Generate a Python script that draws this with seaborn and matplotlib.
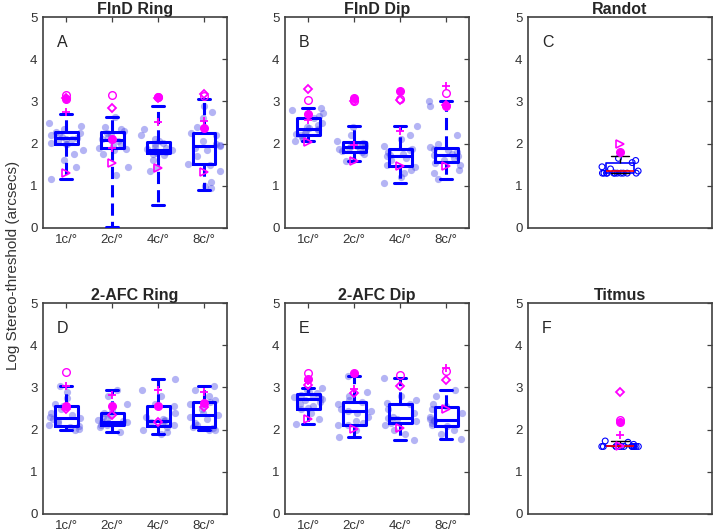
import numpy as np
import pandas as pd
import matplotlib
matplotlib.use("Agg")
import matplotlib.pyplot as plt
import seaborn as sns

sns.set_style("white")
plt.rcParams["font.family"] = ["Liberation Sans", "DejaVu Sans"]

freqs = ["1c/°", "2c/°", "4c/°", "8c/°"]

# ---------------- individual observers (blue dots) ----------------
find_ring_dots = [
    [1.17, 1.45, 1.62, 1.75, 1.85, 1.98, 2.0, 2.02, 2.05, 2.1, 2.12, 2.14, 2.16, 2.2, 2.22, 2.25, 2.28, 2.35, 2.42, 2.5],
    [1.25, 1.45, 1.75, 1.85, 1.88, 1.9, 1.95, 2.0, 2.05, 2.08, 2.1, 2.12, 2.15, 2.2, 2.25, 2.3, 2.35, 2.4, 2.63],
    [1.35, 1.45, 1.6, 1.72, 1.76, 1.78, 1.8, 1.83, 1.85, 1.87, 1.9, 1.93, 1.98, 2.02, 2.05, 2.1, 2.2, 2.35],
    [0.95, 1.0, 1.1, 1.35, 1.5, 1.52, 1.7, 1.85, 1.9, 1.95, 1.97, 2.0, 2.05, 2.2, 2.25, 2.4, 2.6, 2.75, 2.9],
]
find_dip_dots = [
    [2.07, 2.1, 2.15, 2.2, 2.22, 2.25, 2.3, 2.33, 2.35, 2.38, 2.4, 2.45, 2.5, 2.6, 2.65, 2.72, 2.8, 2.84],
    [1.58, 1.62, 1.75, 1.8, 1.82, 1.85, 1.88, 1.9, 1.93, 1.95, 1.95, 1.97, 2.0, 2.02, 2.05, 2.2, 2.4],
    [1.06, 1.2, 1.3, 1.38, 1.45, 1.5, 1.6, 1.65, 1.7, 1.72, 1.75, 1.8, 1.85, 1.88, 1.95, 2.1, 2.2, 2.42],
    [1.15, 1.3, 1.38, 1.5, 1.55, 1.6, 1.65, 1.7, 1.72, 1.75, 1.8, 1.85, 1.88, 1.92, 2.0, 2.2, 2.9, 3.02],
]
afc_ring_dots = [
    [1.99, 2.02, 2.05, 2.08, 2.1, 2.15, 2.2, 2.25, 2.28, 2.3, 2.35, 2.4, 2.5, 2.55, 2.6, 2.75, 2.9, 3.03],
    [1.94, 2.05, 2.1, 2.12, 2.15, 2.17, 2.18, 2.2, 2.22, 2.25, 2.3, 2.35, 2.4, 2.45, 2.6, 2.8, 2.94],
    [1.89, 1.95, 2.0, 2.05, 2.1, 2.15, 2.18, 2.2, 2.22, 2.25, 2.3, 2.4, 2.55, 2.6, 2.8, 2.95, 3.2],
    [1.99, 2.0, 2.03, 2.05, 2.1, 2.15, 2.25, 2.3, 2.35, 2.4, 2.5, 2.6, 2.65, 2.7, 2.8, 2.95, 3.03],
]
afc_dip_dots = [
    [2.14, 2.25, 2.4, 2.48, 2.52, 2.55, 2.6, 2.65, 2.7, 2.72, 2.75, 2.78, 2.8, 2.83, 2.86, 2.9, 2.95, 2.99],
    [1.83, 2.0, 2.1, 2.12, 2.15, 2.2, 2.3, 2.4, 2.43, 2.45, 2.5, 2.6, 2.65, 2.7, 2.8, 2.9, 3.27],
    [1.76, 1.9, 2.0, 2.1, 2.15, 2.2, 2.25, 2.28, 2.3, 2.4, 2.5, 2.6, 2.62, 2.7, 2.8, 3.23],
    [1.77, 1.9, 2.0, 2.08, 2.1, 2.15, 2.2, 2.22, 2.25, 2.3, 2.4, 2.5, 2.55, 2.6, 2.8, 2.94],
]
randot_dots = [1.3, 1.3, 1.3, 1.3, 1.3, 1.3, 1.3, 1.3, 1.3, 1.3, 1.3, 1.35, 1.4, 1.45, 1.55, 1.6, 1.65]
titmus_dots = [1.6, 1.6, 1.6, 1.6, 1.6, 1.6, 1.6, 1.6, 1.6, 1.6, 1.6, 1.6, 1.6, 1.65, 1.7, 1.73]

# ---------------- box summary statistics ----------------
find_ring_box = dict(q1=[2.0, 1.89, 1.77, 1.51], med=[2.13, 2.09, 1.86, 1.95], q3=[2.27, 2.27, 2.03, 2.25],
                     lo=[1.17, 0.02, 0.55, 0.91], hi=[2.71, 2.63, 2.88, 3.06])
find_dip_box = dict(q1=[2.2, 1.79, 1.48, 1.56], med=[2.35, 1.93, 1.71, 1.74], q3=[2.61, 2.03, 1.87, 1.9],
                    lo=[2.07, 1.58, 1.06, 1.15], hi=[2.84, 2.41, 2.42, 3.02])
afc_ring_box = dict(q1=[2.09, 2.11, 2.09, 2.06], med=[2.28, 2.19, 2.2, 2.35], q3=[2.56, 2.39, 2.56, 2.65],
                    lo=[1.99, 1.94, 1.89, 1.99], hi=[3.03, 2.94, 3.2, 3.03])
afc_dip_box = dict(q1=[2.5, 2.11, 2.15, 2.09], med=[2.72, 2.43, 2.28, 2.22], q3=[2.85, 2.66, 2.6, 2.54],
                   lo=[2.14, 1.83, 1.76, 1.77], hi=[2.99, 3.27, 3.23, 2.94])
randot_box = dict(q1=[1.3], med=[1.36], q3=[1.54], lo=[1.3], hi=[1.71])
titmus_box = dict(q1=[1.6], med=[1.6], q3=[1.6], lo=[1.6], hi=[1.73])

# ---------------- highlighted observers (magenta markers) ----------------
nan = np.nan
find_ring_mag = dict(open_circle=[3.14, 3.14, 3.1, 3.12], filled=[3.06, 2.1, 3.1, 2.36],
                     plus=[2.76, 1.9, 2.52, 2.53], diamond=[3.08, 2.84, 3.08, 3.18],
                     triangle=[1.30, 1.55, 1.42, 1.33])
find_dip_mag = dict(open_circle=[3.03, 3.0, 3.05, 3.21], filled=[2.71, 3.08, 3.24, 2.9],
                    plus=[2.57, 1.96, 2.29, 3.37], diamond=[3.29, 3.02, 3.04, 2.92],
                    triangle=[2.04, 1.59, 1.46, 1.48])
afc_ring_mag = dict(open_circle=[3.37, nan, nan, nan], filled=[2.56, 2.56, 2.56, 2.62],
                    plus=[3.03, 2.83, 2.93, 2.9], diamond=[2.48, 2.35, 2.18, 2.53],
                    triangle=[nan, nan, nan, nan])
afc_dip_mag = dict(open_circle=[3.35, nan, 3.29, 3.39], filled=[3.21, 3.35, nan, nan],
                   plus=[3.15, 2.97, nan, 3.46], diamond=[3.06, 2.87, 3.03, 3.17],
                   triangle=[2.24, 2.02, 2.03, 2.48])
randot_mag = dict(open_circle=[nan], filled=[1.79], plus=[nan], diamond=[nan], triangle=[2.0])
titmus_mag = dict(open_circle=[2.23], filled=[2.17], plus=[1.87], diamond=[2.89], triangle=[1.6])

panels = [
    ("FInD Ring", "A", find_ring_dots, find_ring_box, find_ring_mag, freqs),
    ("FInD Dip", "B", find_dip_dots, find_dip_box, find_dip_mag, freqs),
    ("Randot", "C", [randot_dots], randot_box, randot_mag, ["Randot"]),
    ("2-AFC Ring", "D", afc_ring_dots, afc_ring_box, afc_ring_mag, freqs),
    ("2-AFC Dip", "E", afc_dip_dots, afc_dip_box, afc_dip_mag, freqs),
    ("Titmus", "F", [titmus_dots], titmus_box, titmus_mag, ["Titmus"]),
]

W, H = 713, 531
fig = plt.figure(figsize=(W / 100, H / 100), dpi=100)
lefts = [43, 285, 528]
tops = [17, 303]
aw, ah = 184, 211

BLUE = "#0000ff"
MAG = "#ff00ff"
SPINE = "#404040"

np.random.seed(7)
for i, (title, letter, dots, box, mag, cats) in enumerate(panels):
    r, c = divmod(i, 3)
    ax = fig.add_axes([lefts[c] / W, 1 - (tops[r] + ah) / H, aw / W, ah / H])
    single = len(cats) == 1
    df = pd.DataFrame({"cat": [cats[k] for k, d in enumerate(dots) for _ in d],
                       "val": [v for d in dots for v in d]})
    if single:
        sns.stripplot(data=df, x="cat", y="val", order=cats, jitter=0.1, size=4.2,
                      color=BLUE, linewidth=0, ax=ax, zorder=2)
        coll = ax.collections[-1]
        coll.set_facecolor("none")
        coll.set_edgecolor(BLUE)
        coll.set_linewidth(0.8)
    else:
        sns.stripplot(data=df, x="cat", y="val", order=cats, jitter=0.38, size=5.2,
                      color=(0.3, 0.3, 0.9), alpha=0.42, linewidth=0, ax=ax, zorder=1)

    stats = [dict(med=box["med"][k], q1=box["q1"][k], q3=box["q3"][k],
                  whislo=box["lo"][k], whishi=box["hi"][k], fliers=[])
             for k in range(len(cats))]
    pos = np.arange(len(cats))
    if single:
        ax.bxp(stats, positions=pos, widths=0.15, capwidths=0.1, showfliers=False,
               boxprops=dict(color=BLUE, lw=1.2),
               medianprops=dict(color="red", lw=1.2),
               whiskerprops=dict(color="black", lw=1.0, ls="--"),
               capprops=dict(color="black", lw=1.0), zorder=3)
    else:
        ax.bxp(stats, positions=pos, widths=0.5, capwidths=0.28, showfliers=False,
               boxprops=dict(color=BLUE, lw=2.2),
               medianprops=dict(color=BLUE, lw=2.2),
               whiskerprops=dict(color=BLUE, lw=2.2, ls=(0, (4, 2))),
               capprops=dict(color=BLUE, lw=2.2), zorder=3)

    ax.plot(pos, mag["open_circle"], ls="none", marker="o", ms=5.5, mfc="none", mec=MAG, mew=1.0, zorder=4)
    ax.plot(pos, mag["filled"], ls="none", marker="o", ms=5.5, mfc=MAG, mec=MAG, mew=1.0, zorder=4)
    ax.plot(pos, mag["plus"], ls="none", marker="+", ms=5.5, mec=MAG, mew=1.3, zorder=4)
    ax.plot(pos, mag["diamond"], ls="none", marker="D", ms=4.2, mfc="none", mec=MAG, mew=1.3, zorder=4)
    ax.plot(pos, mag["triangle"], ls="none", marker=">", ms=5.5, mfc="none", mec=MAG, mew=1.2, zorder=4)

    ax.set_xlim(-0.5, len(cats) - 0.5)
    ax.set_ylim(0, 5)
    ax.set_yticks(range(6))
    ax.set_xlabel("")
    ax.set_ylabel("")
    if single:
        ax.set_xticks([])
    else:
        ax.set_xticks(pos)
        ax.set_xticklabels(cats)
    ax.tick_params(direction="in", top=not single, right=True, length=3.5, width=0.9,
                   color=SPINE, labelsize=9.5, labelcolor="#333333", pad=4)
    for s in ax.spines.values():
        s.set_visible(True)
        s.set_color(SPINE)
        s.set_linewidth(1.2)
    ax.set_title(title, fontsize=11.5, fontweight="bold", pad=2.5)
    ax.text(0.076, 0.88, letter, transform=ax.transAxes, fontsize=11.5, va="center", ha="left")

fig.text(13 / W, 0.5, "Log Stereo-threshold (arcsecs)", rotation=90, va="center", ha="center",
         fontsize=11, color="#333333")

fig.savefig("out.png", dpi=100)
